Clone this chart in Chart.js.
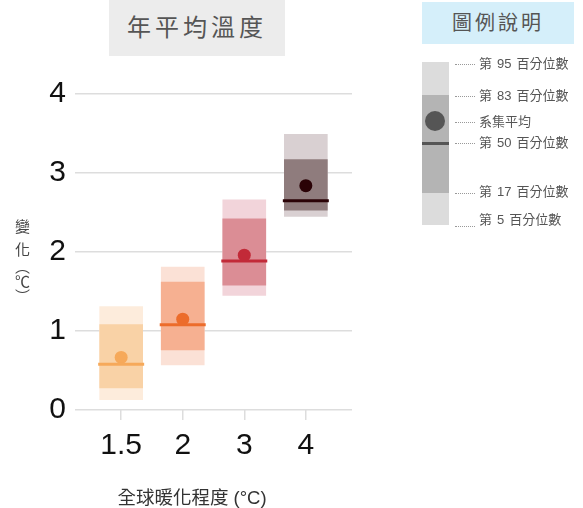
<!DOCTYPE html>
<html>
<head>
<meta charset="utf-8">
<script src="https://cdn.jsdelivr.net/npm/chart.js@4/dist/chart.umd.min.js"></script>
<style>
  body { margin: 0; background: #fff; width: 583px; height: 508px; position: relative; overflow: hidden;
         font-family: "Noto Sans CJK TC", "Liberation Sans", sans-serif; }
  #wrap { position: absolute; left: 0; top: 0; width: 360px; height: 508px; }
  .title { position: absolute; left: 109px; top: 0; width: 176px; height: 56px; background: #ececec;
           color: #555; font-size: 24px; letter-spacing: 4px; text-align: center; line-height: 52px; }
  .ytitle { position: absolute; left: 14px; top: 219px; color: #444; font-size: 15px; line-height: 16px;
            writing-mode: vertical-rl; font-family: "Noto Sans CJK TC", sans-serif; }
  .xtitle { position: absolute; left: 92px; top: 483px; width: 200px; text-align: center; color: #333;
            font-size: 18.5px; line-height: 26px; }
  .xtitle span { font-family: "Liberation Sans", sans-serif; }
  .legtitle { position: absolute; left: 422px; top: 2px; width: 152px; height: 42px; background: #d5effa;
              color: #555; font-size: 20px; letter-spacing: 3px; text-align: center; line-height: 40px; }
  .lbar { position: absolute; left: 422px; width: 27px; }
  .lab { position: absolute; left: 479px; color: #555; font-size: 13px; white-space: nowrap; }
  .lab b { font-weight: normal; font-family: "Liberation Sans", sans-serif; margin: 0 5px; }
  .lead { position: absolute; left: 455px; width: 20px; border-top: 1px dotted #999; }
</style>
</head>
<body>
<div id="wrap"><canvas id="boxChart"></canvas></div>
<div class="title">年平均溫度</div>
<div class="ytitle"><span style="letter-spacing:8px">變</span><span style="letter-spacing:2px">化</span>（℃）</div>
<div class="xtitle">全球暖化程度<span> (°C)</span></div>

<div class="legtitle">圖例說明</div>
<div class="lbar" style="top:62px;height:163px;background:#dcdcdc"></div>
<div class="lbar" style="top:95px;height:98px;background:#b4b4b4"></div>
<div class="lbar" style="top:142px;height:3px;background:#555"></div>
<div style="position:absolute;left:425px;top:111px;width:20px;height:20px;border-radius:50%;background:#555"></div>
<div class="lead" style="top:64px"></div><div class="lab" style="top:53px">第<b>95</b>百分位數</div>
<div class="lead" style="top:96px"></div><div class="lab" style="top:85px">第<b>83</b>百分位數</div>
<div class="lead" style="top:122px"></div><div class="lab" style="top:111px">系集平均</div>
<div class="lead" style="top:143px"></div><div class="lab" style="top:132px">第<b>50</b>百分位數</div>
<div class="lead" style="top:193px"></div><div class="lab" style="top:181px">第<b>17</b>百分位數</div>
<div class="lead" style="top:226px"></div><div class="lab" style="top:209px">第<b>5</b>百分位數</div>

<script>
// 資料 (°C)
var categories = ['1.5', '2', '3', '4'];
var p5  = [0.13, 0.57, 1.45, 2.45];
var p17 = [0.28, 0.76, 1.58, 2.53];
var p50 = [0.58, 1.08, 1.885, 2.65];
var p83 = [1.08, 1.62, 2.42, 3.17];
var p95 = [1.31, 1.81, 2.66, 3.49];
var means = [0.665, 1.15, 1.96, 2.84];
var yTicks = [0, 1, 2, 3, 4];

// 顏色
var lightColors = ['#fdecdc', '#fbe1d6', '#f2d4da', '#d9d0d2'];
var darkColors  = ['#f9d2a6', '#f6b091', '#db8d95', '#8f7c7d'];
var markColors  = ['#f6a95a', '#ec6c2b', '#c22a38', '#2a0206'];

function range(lo, hi) {
  return categories.map(function (c, i) { return { x: i, y: [lo[i], hi[i]] }; });
}
function points(vals) {
  return categories.map(function (c, i) { return { x: i, y: vals[i] }; });
}

var ctx = document.getElementById('boxChart');

var boxChart = new Chart(ctx, {
  type: 'bar',
  data: {
    datasets: [
      { data: range(p5, p95), backgroundColor: lightColors, barThickness: 43, grouped: false, order: 4 },
      { data: range(p17, p83), backgroundColor: darkColors, barThickness: 43, grouped: false, order: 3 },
      { type: 'scatter', data: points(means), pointStyle: 'circle', pointRadius: 6.5,
        backgroundColor: markColors, borderWidth: 0, order: 2 },
      { type: 'scatter', data: points(p50), pointStyle: 'line', pointRadius: 23,
        borderColor: markColors, borderWidth: 3, order: 1 },
    ],
  },
  options: {
    responsive: true,
    maintainAspectRatio: false,
    animation: false,
    events: [],
    layout: { autoPadding: false, padding: { top: 94, right: 8, left: 0, bottom: 0 } },
    plugins: { legend: { display: false }, tooltip: { enabled: false } },
    scales: {
      x: {
        type: 'linear',
        offset: false,
        min: -0.75,
        max: 3.75,
        afterBuildTicks: function (axis) {
          axis.ticks = categories.map(function (c, i) { return { value: i }; });
        },
        afterFit: function (axis) {
          axis.height = 98;
          axis.paddingLeft = 0;
          axis.paddingRight = 0;
        },
        border: { display: false },
        grid: { offset: false, drawOnChartArea: false, drawTicks: true, tickLength: 10, color: '#dddddd', lineWidth: 1.5 },
        ticks: {
          padding: 8,
          color: '#111',
          font: { family: 'Liberation Sans', size: 30 },
          callback: function (v) { return categories[v]; },
        },
      },
      y: {
        min: 0,
        max: 4,
        afterBuildTicks: function (axis) {
          axis.ticks = yTicks.map(function (v) { return { value: v }; });
        },
        afterFit: function (axis) { axis.width = 75; },
        border: { display: false },
        grid: { color: '#dddddd', lineWidth: 1.5, drawTicks: false },
        ticks: {
          padding: 9,
          color: '#111',
          font: { family: 'Liberation Sans', size: 30 },
        },
      },
    },
  },
});
</script>
</body>
</html>
